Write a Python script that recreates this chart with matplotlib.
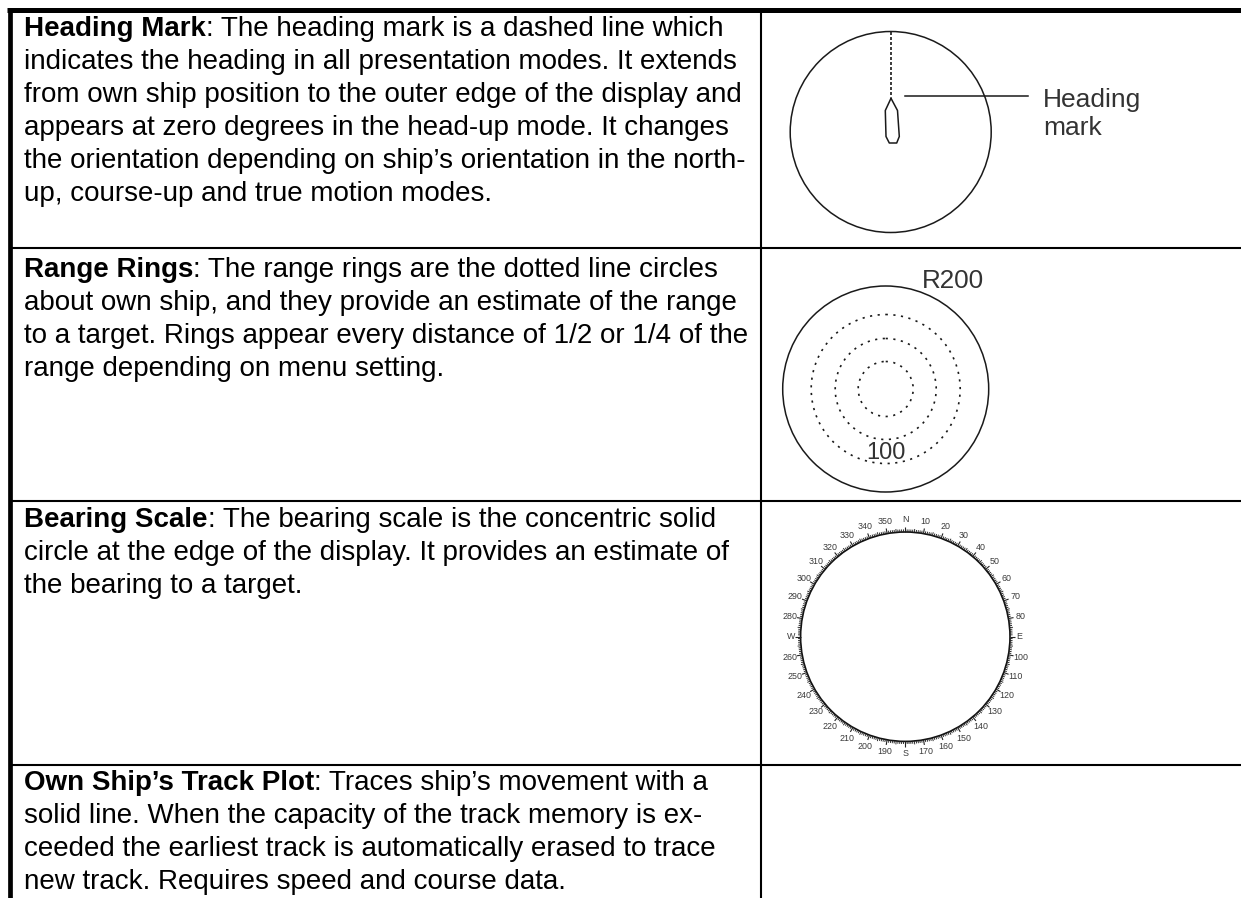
import numpy as np
import matplotlib
matplotlib.use('Agg')
import matplotlib.pyplot as plt
from matplotlib.patches import Circle

W, H = 1241, 898

# table rows: y of the horizontal rules and the vertical divider
row_lines = [248, 500.5, 765]
divider_x = 760.5
left_x = 9.7

heads = ['Heading Mark', 'Range Rings', 'Bearing Scale', "Own Ship\u2019s Track Plot"]
first_lines = [': The heading mark is a dashed line which',
               ': The range rings are the dotted line circles',
               ': The bearing scale is the concentric solid',
               ': Traces ship\u2019s movement with a']
body_lines = [
    ['indicates the heading in all presentation modes. It extends',
     'from own ship position to the outer edge of the display and',
     'appears at zero degrees in the head-up mode. It changes',
     'the orientation depending on ship\u2019s orientation in the north-',
     'up, course-up and true motion modes.'],
    ['about own ship, and they provide an estimate of the range',
     'to a target. Rings appear every distance of 1/2 or 1/4 of the',
     'range depending on menu setting.'],
    ['circle at the edge of the display. It provides an estimate of',
     'the bearing to a target.'],
    ['solid line. When the capacity of the track memory is ex-',
     'ceeded the earliest track is automatically erased to trace',
     'new track. Requires speed and course data.'],
]
text_base = [35.7, 276.7, 527, 790]
line_gap = 33

ship_x = [891, 897.5, 899.3, 896.7, 889.3, 886, 885.3, 891]
ship_y = [98.3, 110.5, 136.5, 143, 143, 136.5, 110.5, 98.3]
ring_radii = [27.5, 50.5, 74.5]
bearing_labels = {0: 'N', 90: 'E', 180: 'S', 270: 'W'}

plt.rcParams['font.family'] = 'Liberation Sans'
fig = plt.figure(figsize=(W / 100, H / 100), dpi=100)
ax = fig.add_axes([0, 0, 1, 1])
ax.set_xlim(0, W)
ax.set_ylim(H, 0)
ax.axis('off')

# --- table rules
ax.plot([7.3, W], [9.8, 9.8], color='black', lw=3.6, solid_capstyle='butt')
ax.plot([left_x, left_x], [8, H], color='black', lw=3.4, solid_capstyle='butt')
ax.plot([divider_x, divider_x], [8, H], color='black', lw=1.5, solid_capstyle='butt')
for y in row_lines:
    ax.plot([left_x, W], [y, y], color='black', lw=1.5, solid_capstyle='butt')

# --- left column text
fs = 19.95
fig.canvas.draw()
rend = fig.canvas.get_renderer()
for head, first, body, base in zip(heads, first_lines, body_lines, text_base):
    t = ax.text(24, base, head, fontsize=fs, fontweight='bold', va='baseline', color='black')
    ext = t.get_window_extent(rend)
    ax.text(24 + ext.width, base, first, fontsize=fs, va='baseline', color='black')
    for i, line in enumerate(body):
        ax.text(24, base + (i + 1) * line_gap, line, fontsize=fs, va='baseline', color='black')


def circle(cx, cy, r, **kw):
    ax.add_patch(Circle((cx, cy), r, fill=False, **kw))


# --- heading mark
circle(890.7, 132, 100.5, edgecolor='#1a1a1a', lw=1.1)
ax.plot([890.7, 890.7], [32, 97], color='#1a1a1a', lw=1.2, ls=(0, (1.8, 1.2)))
ax.plot(ship_x, ship_y, color='#1a1a1a', lw=1.1)
ax.plot([905.3, 1027.7], [96, 96], color='#1a1a1a', lw=1.1)
ax.text(1043, 106.7, 'Heading', fontsize=19, va='baseline', color='#333333')
ax.text(1043, 135, 'mark', fontsize=19, va='baseline', color='#333333')

# --- range rings
circle(885.7, 389, 103, edgecolor='#1a1a1a', lw=1.1)
for r in ring_radii:
    circle(885.7, 389, r, edgecolor='#1a1a1a', lw=1.2, ls=(0, (1.3, 3.3)))
ax.text(953, 288, 'R200', fontsize=18.7, ha='center', va='baseline', color='#333333')
ax.text(885.7, 459, '100', fontsize=17, ha='center', va='baseline', color='#333333')

# --- bearing scale
cx, cy, r = 905.3, 636.7, 104.7
circle(cx, cy, r, edgecolor='#111111', lw=1.2)
for deg in range(0, 360):
    a = np.radians(deg)
    ln = 5.2 if deg % 10 == 0 else (3.4 if deg % 5 == 0 else 2.6)
    ax.plot([cx + r * np.sin(a), cx + (r + ln) * np.sin(a)],
            [cy - r * np.cos(a), cy - (r + ln) * np.cos(a)],
            color='#222222', lw=0.8 if deg % 10 == 0 else 0.65, solid_capstyle='butt')
for deg in range(0, 360, 10):
    a = np.radians(deg)
    label = bearing_labels.get(deg, str(deg))
    rad = 114 if deg in (90, 270) else 117
    ax.text(cx + rad * np.sin(a), cy - rad * np.cos(a), label,
            fontsize=6.4, ha='center', va='center', color='#3a3a3a',
            family=['Liberation Sans Narrow', 'Liberation Sans'])

fig.savefig('out.png', dpi=100)
